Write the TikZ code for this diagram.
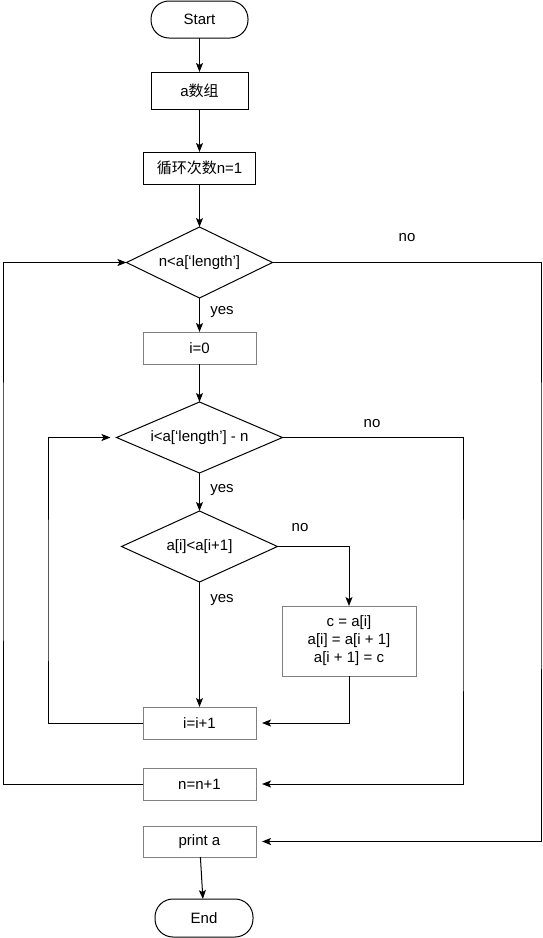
\documentclass[tikz,border=0pt]{standalone}
\usepackage{fontspec}
\setmainfont{Liberation Sans}
\newfontfamily\cjk{Noto Sans CJK SC}
\usetikzlibrary{shapes.geometric, arrows.meta, positioning}

\begin{document}
\begin{tikzpicture}[
        x=1pt, y=-1pt,
        font=\fontsize{15}{18}\selectfont,
        term/.style={rectangle, draw=black, rounded corners=18pt, outer sep=0pt, minimum width=97pt, minimum height=37pt, line width=1pt},
        proc/.style={rectangle, draw=black, outer sep=0pt, minimum width=97pt, minimum height=37pt, line width=1pt},
        procgray/.style={rectangle, draw=black!50, outer sep=0pt, minimum width=113pt, minimum height=32pt, line width=1pt},
        cond/.style={diamond, draw=black, inner sep=0pt, outer sep=0pt, aspect=2.1, minimum width=146pt, minimum height=71pt, line width=1pt},
        arrow/.style={-{Stealth[length=9pt, width=7pt, inset=2pt]}, line width=1pt},
        lbl/.style={inner sep=0pt}
    ]
        \useasboundingbox (0,0) rectangle (542,938);

        % Nodes
        \node[term] (start) at (199.5,19.5) {Start};
        \node[proc, below=34pt of start] (arr) {a{\cjk 数组}};
        \node[proc, minimum width=112pt, minimum height=32pt, below=43pt of arr] (loop) {{\cjk 循环次数}n=1};
        \node[cond, below=43pt of loop] (outer) {n<a[‘length’]};
        \node[procgray, below=34pt of outer] (izero) {i=0};
        \node[cond, aspect=2.35, minimum width=166pt, below=38pt of izero] (inner) {i<a[‘length’] - n};
        \node[cond, aspect=2.2, minimum width=156pt, below=38pt of inner] (cmp) {a[i]<a[i+1]};
        \node[procgray, minimum width=134pt, minimum height=70pt, align=center] (swap) at (349,641) {c = a[i]\\a[i] = a[i + 1]\\a[i + 1] = c};
        \node[procgray, below=125pt of cmp] (inc) {i=i+1};
        \node[procgray, below=29pt of inc] (nextn) {n=n+1};
        \node[procgray, minimum height=31pt, below=26pt of nextn] (print) {print a};
        \node[term, minimum width=98pt, minimum height=38pt, below=42pt of print, xshift=4.5pt] (end) {End};

        % Loop corners
        \coordinate (innerleft) at (48,600);
        \coordinate (innerright) at (463,600);
        \coordinate (outerleft) at (3,500);
        \coordinate (outerright) at (541,500);

        % Main flow
        \draw[arrow] (start) -- (arr);
        \draw[arrow] (arr) -- (loop);
        \draw[arrow] (loop) -- (outer);
        \draw[arrow] (outer) -- (izero);
        \draw[arrow] (izero) -- (inner);
        \draw[arrow] (inner) -- (cmp);
        \draw[arrow] (cmp) -- (inc);
        \draw[arrow] (print) -- (end);

        % Branches and loops
        \draw[arrow] (cmp.east) -| (swap.north);
        \draw[arrow, shorten >=6pt] (swap.south) |- (inc.east);
        \draw[arrow, shorten >=6pt] (inc.west) -| (innerleft) |- (inner.west);
        \draw[arrow, shorten >=6pt] (inner.east) -| (innerright) |- (nextn.east);
        \draw[arrow] (nextn.west) -| (outerleft) |- (outer.west);
        \draw[arrow, shorten >=6pt] (outer.east) -| (outerright) |- (print.east);

        % Labels
        \node[lbl] (yes1) at (222,312) {yes};
        \node[lbl] (yes2) at (222,490) {yes};
        \node[lbl] (yes3) at (222,600) {yes};
        \node[lbl] (no1) at (407,238) {no};
        \node[lbl] (no2) at (372,424) {no};
        \node[lbl] (no3) at (300,528) {no};
\end{tikzpicture}
\end{document}
